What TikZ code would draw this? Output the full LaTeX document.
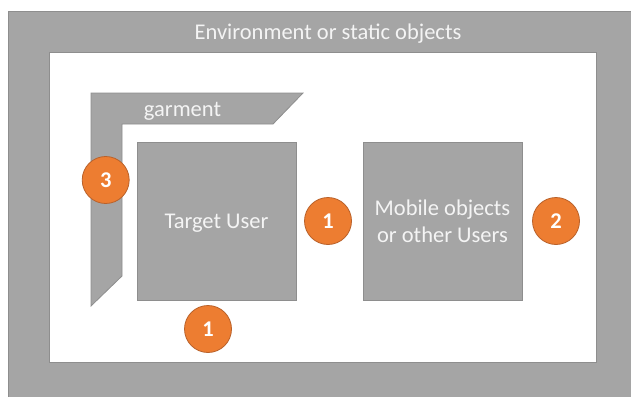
\documentclass[tikz,border=0pt]{standalone}
\usepackage{fontspec}
\setmainfont{Carlito}
\definecolor{boxgray}{HTML}{A5A5A5}
\definecolor{boxline}{HTML}{8E8E8E}
\definecolor{badge}{HTML}{ED7D31}
\definecolor{badgeline}{HTML}{B9612A}
\definecolor{softwhite}{HTML}{F4F4F4}
\begin{document}
\begin{tikzpicture}[x=1pt,y=-1pt,
  panel/.style={fill=boxgray,draw=boxline,line width=0.8pt},
  block/.style={panel,rectangle,minimum width=159pt,minimum height=158pt,inner sep=0pt},
  caption/.style={text=softwhite,font=\fontsize{22.5}{27}\selectfont,anchor=base,inner sep=0pt},
  marker/.style={circle,fill=badge,draw=badgeline,line width=0.8pt,minimum size=47pt,inner sep=0pt,
    text=white,font=\fontsize{22.5}{26}\selectfont\bfseries}]
  \useasboundingbox (0,0) rectangle (631,396);
  % surrounding environment frame
  \fill[boxgray] (8,11) rectangle (640,405);
  \draw[boxline,line width=0.8pt] (8,405) -- (8,11) -- (640,11);
  \draw[fill=white,draw=boxline,line width=0.8pt] (49,52) rectangle (596,362);
  \node[caption] (envtext) at (328,40) {Environment or static objects};
  % garment layer wrapping the user
  \draw[panel] (91,93) -- (303,93) -- (273,124) -- (122,124) -- (122,276) -- (91,306) -- cycle;
  \node[caption] (garmtext) at (182.5,116) {garment};
  % users and objects
  \node[block] (target) at (216.5,221) {};
  \node[caption] (targettext) at (216.5,228) {Target User};
  \node[block] (mobile) at (442.5,221) {};
  \node[caption] (mobiletext1) at (442.5,215) {Mobile objects};
  \node[caption] (mobiletext2) at (442.5,242) {or other Users};
  % numbered markers
  \node[marker] (m3) at (105.7,180) {3};
  \node[marker] (m1a) at (208,329) {1};
  \node[marker] (m1b) at (328,221) {1};
  \node[marker] (m2) at (556,221) {2};
\end{tikzpicture}
\end{document}
